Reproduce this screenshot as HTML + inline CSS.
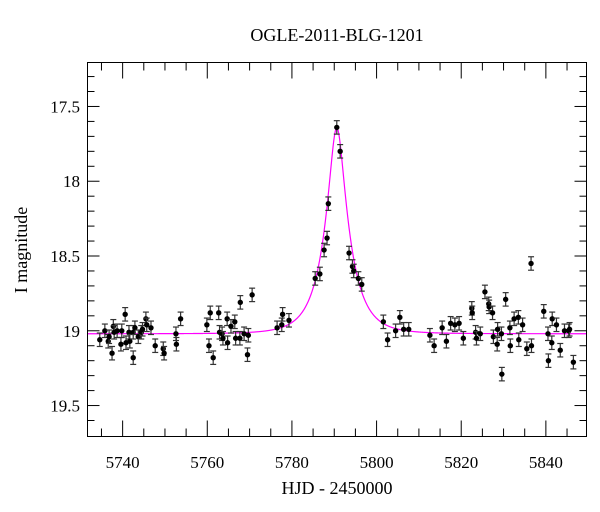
<!DOCTYPE html>
<html><head><meta charset="utf-8"><style>
html,body{margin:0;padding:0;background:#fff;}
svg{display:block;font-family:"Liberation Serif",serif;}
</style></head><body>
<svg id="chart" width="600" height="512" viewBox="0 0 600 512">
<text x="337" y="41" text-anchor="middle" font-size="18">OGLE-2011-BLG-1201</text>
<text x="337" y="494" text-anchor="middle" font-size="18">HJD - 2450000</text>
<text transform="translate(27,250) rotate(-90)" text-anchor="middle" font-size="18">I magnitude</text>
<g id="axes"></g><g id="model"></g><g id="points"></g>
<rect x="87.5" y="62.5" width="499" height="374" fill="none" stroke="#000" stroke-width="1"/>
</svg>
<script>
const hjd=[5734.6,5735.8,5736.6,5736.8,5737.5,5737.8,5738.0,5738.7,5739.6,5739.8,5740.6,5740.8,5741.5,5741.7,5742.5,5742.5,5742.9,5743.7,5744.4,5744.7,5745.5,5745.7,5746.7,5747.7,5749.6,5749.8,5752.6,5752.7,5753.7,
5759.9,5760.4,5760.7,5761.4,5762.7,5762.9,5763.5,5763.7,5764.7,5764.8,5765.6,5766.5,5766.7,5767.7,5767.8,5768.7,5769.7,5769.5,5770.6,5776.5,5777.6,5777.8,5779.3,
5785.5,5786.6,5787.6,5788.3,5788.6,5790.6,5791.4,5793.5,5794.3,5794.6,5795.7,5796.5,
5801.6,5802.6,5804.5,5805.5,5806.4,5807.6,5812.6,5813.6,5815.5,5816.5,5817.5,5818.5,5819.5,5820.5,5822.5,5822.6,5823.4,5823.6,5824.5,5825.6,5826.5,5826.6,5827.4,5827.6,5828.6,5828.5,5829.5,5829.6,5830.5,5831.5,5831.6,5832.5,5833.5,5833.6,5834.5,5835.5,5836.5,5836.6,5839.5,5840.5,5840.6,5841.5,5841.4,5842.5,5843.4,5844.4,5845.4,5845.6,5846.5];
const mag=[19.06,19.00,19.07,19.04,19.15,18.97,19.01,19.00,19.09,19.00,18.89,19.08,19.01,19.07,19.01,19.18,18.98,19.04,19.01,18.99,18.92,18.96,18.98,19.10,19.12,19.15,19.02,19.09,18.92,
18.96,19.10,18.88,19.18,18.88,19.01,19.02,19.05,18.92,19.08,18.97,18.94,19.05,19.05,18.81,19.02,19.03,19.16,18.76,18.98,18.96,18.89,18.93,
18.65,18.62,18.46,18.38,18.15,17.64,17.80,18.48,18.57,18.60,18.65,18.69,
18.94,19.06,19.00,18.91,18.99,18.99,19.03,19.10,18.98,19.07,18.95,18.96,18.95,19.05,18.85,18.88,19.01,19.05,19.02,18.74,18.82,18.84,18.88,19.04,18.99,19.09,19.02,19.29,18.79,18.98,19.10,18.92,18.91,19.06,18.96,19.12,18.55,19.10,18.87,19.02,19.20,18.92,19.08,18.96,19.13,19.00,19.00,18.99,19.21];
const magErr=0.045;
const xTicks=[5740,5760,5780,5800,5820,5840];
const yTicks=[17.5,18,18.5,19,19.5];
const model={t0:5790.6,u0:0.29,tE:5.7,base:19.02};
const X0=87.5,X1=586.5,Y0=62.5,Y1=436.5;
const xMin=5731.7,xMax=5849.6,yMin=17.206,yMax=19.707;
const sx=v=>X0+(v-xMin)/(xMax-xMin)*(X1-X0);
const sy=v=>Y0+(v-yMin)/(yMax-yMin)*(Y1-Y0);
const NS="http://www.w3.org/2000/svg";
function mk(t,a,p){const e=document.createElementNS(NS,t);for(const k in a)e.setAttribute(k,a[k]);p.appendChild(e);return e;}
const axes=document.getElementById('axes');
for(let v=5735;v<=5845;v+=5){
  const maj=xTicks.includes(v);const L=maj?16:8;const x=sx(v);
  const t=mk('line',{x1:x,x2:x,y1:Y1,y2:Y1-L,stroke:'#000','stroke-width':1},axes);
  
  
  const t2=mk('line',{x1:x,x2:x,y1:Y0,y2:Y0+L,stroke:'#000','stroke-width':1},axes);
  
  
}
xTicks.forEach(v=>{const t=mk('text',{x:sx(v),y:468,'text-anchor':'middle','font-size':17},axes);t.textContent=v;
  
  });
for(let i=3;i<=26;i++){
  const v=i/10+17;const maj=yTicks.some(t=>Math.abs(t-v)<1e-6);const L=maj?12:7;const y=sy(v);
  if(y<Y0||y>Y1)continue;
  const t=mk('line',{x1:X0,x2:X0+L,y1:y,y2:y,stroke:'#000','stroke-width':1},axes);
  
  
  const t2=mk('line',{x1:X1,x2:X1-L,y1:y,y2:y,stroke:'#000','stroke-width':1},axes);
  
  
}
yTicks.forEach(v=>{const t=mk('text',{x:80,y:sy(v)+6,'text-anchor':'end','font-size':17},axes);t.textContent=v;
  
  });
let d='';
for(let t=xMin;t<=xMax;t+=0.1){
  const tau=(t-model.t0)/model.tE;const u=Math.sqrt(model.u0*model.u0+tau*tau);
  const A=(u*u+2)/(u*Math.sqrt(u*u+4));const m=model.base-2.5*Math.log10(A);
  d+=(d?'L':'M')+sx(t).toFixed(2)+','+sy(m).toFixed(2);
}
const path=mk('path',{d:d,fill:'none',stroke:'#ff00ff','stroke-width':1.2},document.getElementById('model'));


const pts=document.getElementById('points');
hjd.forEach((t,i)=>{
  const x=sx(t),y=sy(mag[i]),ya=sy(mag[i]-magErr),yb=sy(mag[i]+magErr);
  const g=mk('g',{},pts);
  
  
  mk('line',{x1:x,x2:x,y1:ya,y2:yb,stroke:'#333','stroke-width':1.2},g);
  mk('line',{x1:x-3,x2:x+3,y1:ya,y2:ya,stroke:'#333','stroke-width':1.2},g);
  mk('line',{x1:x-3,x2:x+3,y1:yb,y2:yb,stroke:'#333','stroke-width':1.2},g);
  mk('circle',{cx:x,cy:y,r:2.7,fill:'#000'},g);
});
</script>
</body></html>
